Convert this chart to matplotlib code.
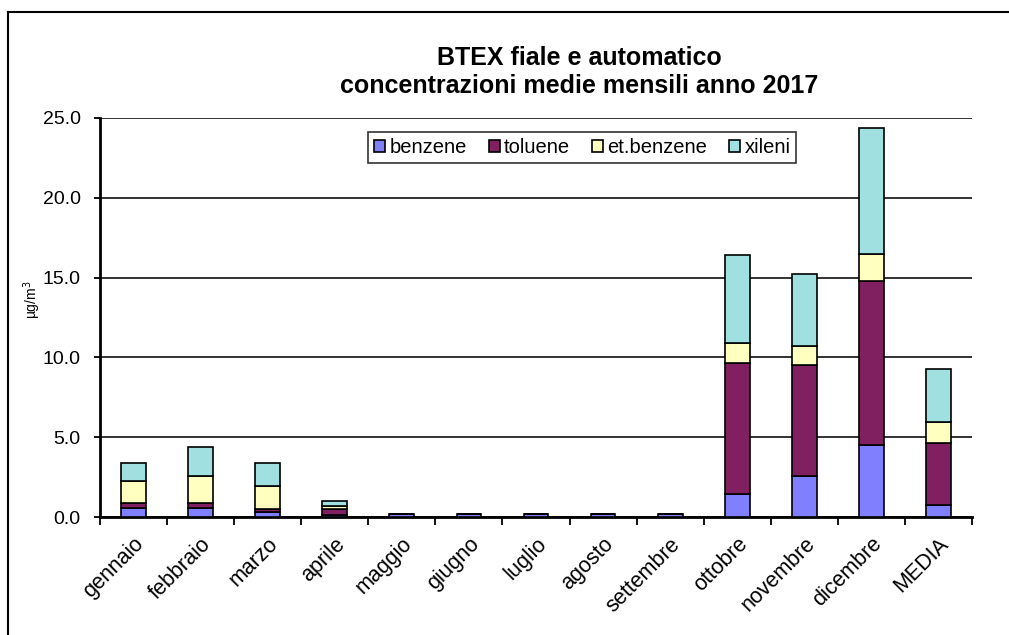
import numpy as np
import matplotlib
matplotlib.use('Agg')
import matplotlib.pyplot as plt
import matplotlib.ticker as tck
from matplotlib.lines import Line2D

plt.rcParams['font.family'] = ['Liberation Sans', 'DejaVu Sans']

# Dati (ug/m3)
mesi = ['gennaio', 'febbraio', 'marzo', 'aprile', 'maggio', 'giugno', 'luglio',
        'agosto', 'settembre', 'ottobre', 'novembre', 'dicembre', 'MEDIA']
benzene = [0.56, 0.56, 0.33, 0.14, 0.2, 0.2, 0.2, 0.2, 0.2, 1.44, 2.57, 4.53, 0.75]
toluene = [0.34, 0.34, 0.19, 0.36, 0.0, 0.0, 0.0, 0.0, 0.0, 8.19, 6.95, 10.27, 3.91]
etbenzene = [1.35, 1.67, 1.42, 0.17, 0.0, 0.0, 0.0, 0.0, 0.0, 1.29, 1.19, 1.68, 1.27]
xileni = [1.11, 1.8, 1.42, 0.31, 0.0, 0.0, 0.0, 0.0, 0.0, 5.48, 4.49, 7.92, 3.32]
serie = ['benzene', 'toluene', 'et.benzene', 'xileni']
colori = ['#8080FF', '#802060', '#FFFFC0', '#A0E0E0']

fig = plt.figure(figsize=(10.09, 6.35), dpi=100)
ax = fig.add_axes([100/1009, 1-517/635, 872/1009, 399/635])

x = np.arange(len(mesi))
base = np.zeros(len(mesi))
for vals, lab, col in zip([benzene, toluene, etbenzene, xileni], serie, colori):
    ax.bar(x, vals, 0.37, bottom=base, color=col, edgecolor='black',
           linewidth=1.2, label=lab, zorder=3)
    base = base + np.array(vals)

ax.set_xlim(-0.5, len(mesi) - 0.5)
ax.set_ylim(0, 25)
ax.yaxis.set_major_locator(tck.MultipleLocator(5))
ax.yaxis.set_major_formatter(tck.FormatStrFormatter('%.1f'))
ax.grid(axis='y', color='#222222', linewidth=1.3, zorder=0)
ax.set_xticks(x)
ax.set_xticklabels(mesi, rotation=45, ha='right', rotation_mode='anchor')
ax.set_xticks(np.arange(-0.5, len(mesi)), minor=True)
ax.tick_params(axis='x', which='major', length=0, pad=12, labelsize=15.5)
ax.tick_params(axis='x', which='minor', length=6, width=1.3, direction='out')
ax.tick_params(axis='y', length=4, width=1.3, direction='out', labelsize=14, pad=10)
for s in ['top', 'right']:
    ax.spines[s].set_visible(False)
for s in ['left', 'bottom']:
    ax.spines[s].set_linewidth(2)
ax.set_ylabel('µg/m$^3$', fontsize=10)
ax.yaxis.set_label_coords(-0.065, 0.544)

leg = ax.legend(loc='upper center', bbox_to_anchor=(0.553, 0.99), ncol=4,
                fontsize=14.5, frameon=True, fancybox=False, edgecolor='black',
                handlelength=0.55, handleheight=0.55, handletextpad=0.2,
                columnspacing=1.1, borderpad=0.3)
leg.get_frame().set_linewidth(1.2)

fig.text(579/1009, 1-72/635, 'BTEX fiale e automatico\nconcentrazioni medie mensili anno 2017',
         ha='center', va='center', fontsize=18, fontweight='bold', linespacing=1.25)

# cornice del grafico
fig.add_artist(Line2D([8/1009, 8/1009], [0, 1-12/635], color='black', linewidth=1.5,
                      transform=fig.transFigure))
fig.add_artist(Line2D([8/1009, 1], [1-12/635, 1-12/635], color='black', linewidth=1.5,
                      transform=fig.transFigure))

fig.savefig('out.png', dpi=100)
